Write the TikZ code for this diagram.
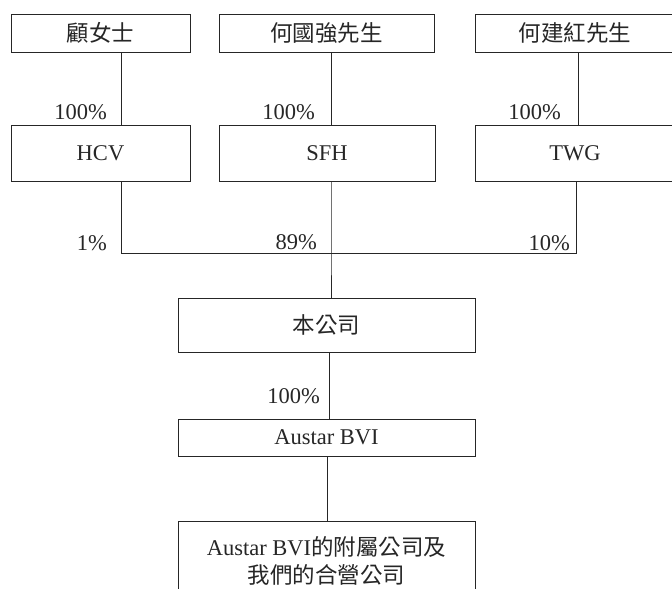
\documentclass[tikz,border=0pt]{standalone}
\usepackage{fontspec}
\setmainfont{Liberation Serif}
\newfontfamily\cjk{Noto Sans CJK TC}
\begin{document}
\begin{tikzpicture}[x=1pt,y=-1pt,
  txt/.style={font=\fontsize{22.5}{28.5}\selectfont, text=black!85},
  box/.style={txt, draw=black!85, line width=0.9pt, inner sep=0pt, align=center},
  conn/.style={draw=black!85, line width=0.9pt},
  pct/.style={txt, anchor=base east, inner sep=0pt}]
\useasboundingbox (0,0) rectangle (672,589);
\clip (0,0) rectangle (672,589);
% top row
\node[box, minimum width=179pt, minimum height=38pt] (b1) at (100.5,33) {\cjk 顧女士};
\node[box, minimum width=215pt, minimum height=38pt] (b2) at (326.5,33) {\cjk 何國強先生};
\node[box, minimum width=200pt, minimum height=38pt] (b3) at (575,33) {\cjk 何建紅先生};
% second row
\node[box, minimum width=179pt, minimum height=56pt] (hcv) at (100.5,153) {HCV};
\node[box, minimum width=216pt, minimum height=56pt] (sfh) at (327,153) {SFH};
\node[box, minimum width=200pt, minimum height=56pt] (twg) at (575,153) {TWG};
% company
\node[box, minimum width=297pt, minimum height=54pt] (co) at (326.5,325) {\cjk 本公司};
\node[box, minimum width=297pt, minimum height=37pt] (bvi) at (326.5,437.5) {Austar BVI};
\node[box, minimum width=297pt, minimum height=80pt] (sub) at (326.5,561)
  {Austar BVI{\cjk 的附屬公司及}\\{\cjk 我們的合營公司}};
% connectors
\coordinate (bus) at (331,253.3);
\draw[conn] ([xshift=21.2pt]b1.south) -- ([xshift=21.2pt]hcv.north);
\draw[conn] ([xshift=4.5pt]b2.south) -- ([xshift=4pt]sfh.north);
\draw[conn] ([xshift=3.3pt]b3.south) -- ([xshift=3.3pt]twg.north);
\draw[conn] ([xshift=21.2pt]hcv.south) |- (bus) -| ([xshift=1.7pt]twg.south);
\draw[conn] ([xshift=4pt]sfh.south) -- (bus) -- ([xshift=4.5pt]co.north);
\draw[conn] ([xshift=2.5pt]co.south) -- ([xshift=2.5pt]bvi.north);
\draw[conn] ([xshift=0.5pt]bvi.south) -- ([xshift=0.5pt]sub.north);
% labels
\node[pct] (l1) at (107,119) {100\%};
\node[pct] (l2) at (315,119) {100\%};
\node[pct] (l3) at (561,119) {100\%};
\node[pct] (l4) at (107,250) {1\%};
\node[pct] (l5) at (317,249) {89\%};
\node[pct] (l6) at (570,250) {10\%};
\node[pct] (l7) at (320,403) {100\%};
\end{tikzpicture}
\end{document}
